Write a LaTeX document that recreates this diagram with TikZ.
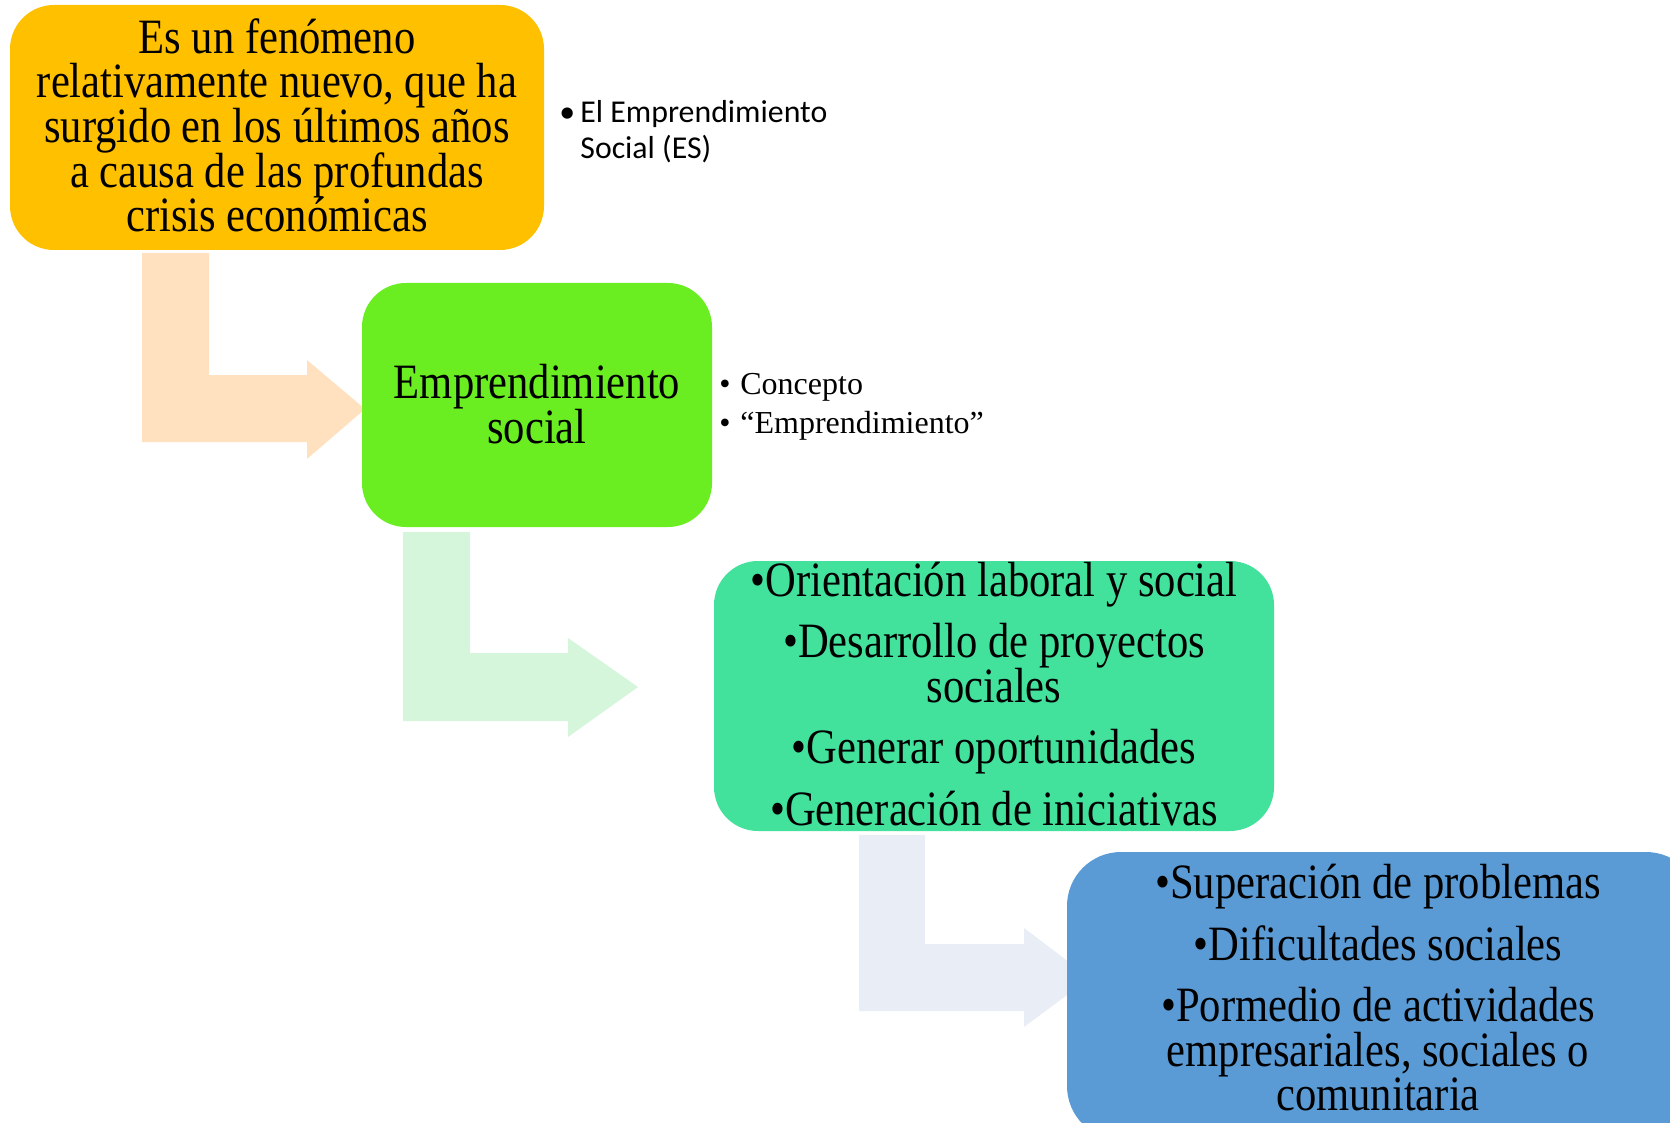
\documentclass[tikz,border=0pt]{standalone}
\usepackage{fontspec}
\setmainfont{Liberation Serif}
\newfontfamily\calibfont{Carlito}
\usepackage{graphicx}
\definecolor{cOrange}{HTML}{FFC000}
\definecolor{cGreen}{HTML}{6AEE22}
\definecolor{cTeal}{HTML}{42E19C}
\definecolor{cBlue}{HTML}{5B9BD5}
\definecolor{aPeach}{HTML}{FFE0BF}
\definecolor{aMint}{HTML}{D5F6DA}
\definecolor{aGrey}{HTML}{E9EDF6}
% each line is smashed so that the rows are spaced by the strut only
\newcommand\sm[1]{\smash{#1}}
\newcommand\bigtxt[2]{\scalebox{1}[1.16]{\fontsize{21.3}{#1}\selectfont\begin{tabular}{@{}c@{}}#2\end{tabular}}}
\newcommand\bul{\makebox[10.5pt][l]{•}}
\tikzset{
  box/.style={rounded corners=22pt, inner sep=0pt},
  boxtext/.style={inner sep=0pt, align=center},
  sidenote/.style={anchor=west, inner sep=0pt}
}
\begin{document}
\begin{tikzpicture}[x=0.5pt,y=-0.5pt]
\useasboundingbox (0,0) rectangle (1670,1123);
\clip (0,0) rectangle (1670,1123);
% bent arrows (drawn first, partly hidden by boxes)
\fill[aPeach] (142,253) -- (209,253) -- (209,375) -- (307,375) -- (307,360) -- (365,409) -- (307,459) -- (307,442) -- (142,442) -- cycle;
\fill[aMint] (403,532) -- (470,532) -- (470,653) -- (568,653) -- (568,638) -- (638,687) -- (568,737) -- (568,721) -- (403,721) -- cycle;
\fill[aGrey] (859,835) -- (925,835) -- (925,944) -- (1024,944) -- (1024,928) -- (1090,978) -- (1024,1027) -- (1024,1011) -- (859,1011) -- cycle;
% boxes
\node[box, fill=cOrange, minimum width=267pt, minimum height=122.5pt] (b1) at (277,127.5) {};
\node[box, fill=cGreen, minimum width=175pt, minimum height=122pt] (b2) at (537,405) {};
\node[box, fill=cTeal, minimum width=280pt, minimum height=135pt] (b3) at (994,696) {};
\node[box, rounded corners=27pt, fill=cBlue, minimum width=316.5pt, minimum height=144pt] (b4) at (1383.5,996) {};
% box texts
\node[boxtext] (t1) at (277,133.6)
  {\bigtxt{19.2}{\sm{Es un fenómeno}\\\sm{relativamente nuevo, que ha}\\\sm{surgido en los últimos años}\\\sm{a causa de las profundas}\\\sm{crisis económicas}}};
\node[boxtext] (t2) at (537,412)
  {\bigtxt{19.2}{\sm{Emprendimiento}\\\sm{social}}};
\node[boxtext] (t3) at (994,702)
  {\bigtxt{19.0}{\sm{•Orientación laboral y social}\\[7.6pt]\sm{•Desarrollo de proyectos}\\\sm{sociales}\\[7.6pt]\sm{•Generar oportunidades}\\[7.6pt]\sm{•Generación de iniciativas}}};
\node[boxtext] (t4) at (1378,995.5)
  {\bigtxt{19.0}{\sm{•Superación de problemas}\\[7.6pt]\sm{•Dificultades sociales}\\[7.6pt]\sm{•Pormedio de actividades}\\\sm{empresariales, sociales o}\\\sm{comunitaria}}};
% side notes
\node[sidenote, font=\calibfont\fontsize{15.9}{18}\selectfont] (n1) at (559,133)
  {\begin{tabular}{@{}l@{}l@{}}\bul&El Emprendimiento\\&Social (ES)\end{tabular}};
\node[sidenote, font=\fontsize{16}{19.7}\selectfont] (n2) at (719,406)
  {\begin{tabular}{@{}l@{}l@{}}\bul&Concepto\\\bul&“Emprendimiento”\end{tabular}};
\end{tikzpicture}
\end{document}
